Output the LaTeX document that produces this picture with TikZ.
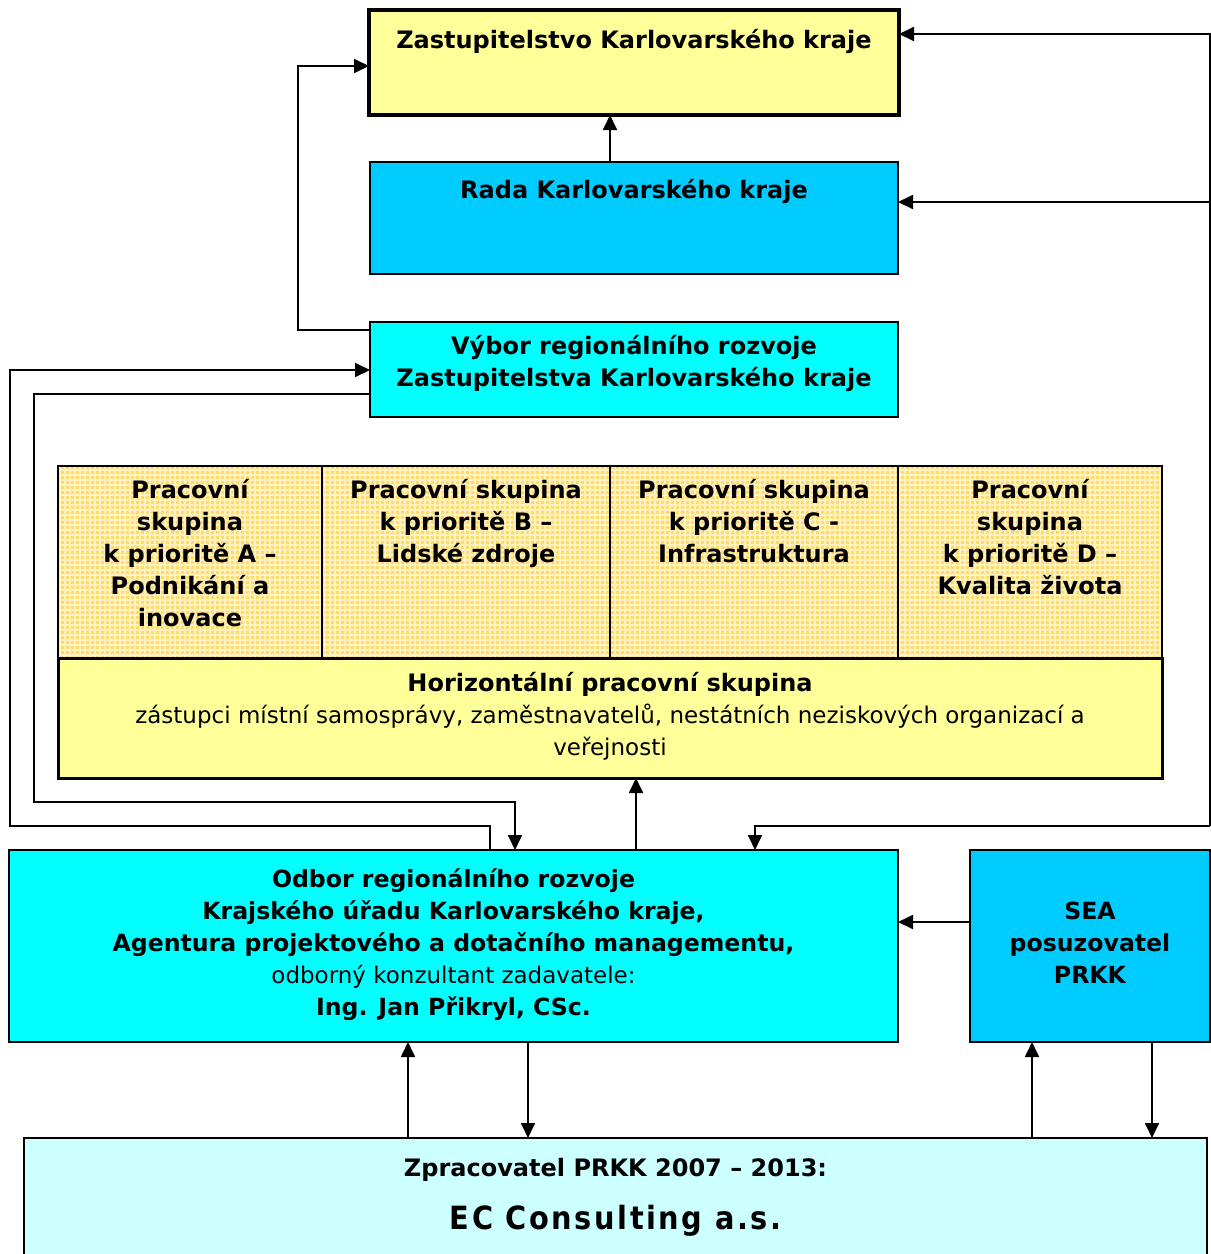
\documentclass[tikz,border=0pt]{standalone}
\usepackage{fontspec}
\setmainfont{DejaVu Sans}
\newfontfamily\ecfont[LetterSpace=8]{DejaVu Sans Condensed}
\usetikzlibrary{arrows.meta}
\definecolor{zyel}{RGB}{255,255,153}
\definecolor{rblue}{RGB}{0,204,255}
\definecolor{vcyan}{RGB}{0,255,255}
\definecolor{zlight}{RGB}{204,255,255}
\definecolor{pyel}{RGB}{255,220,100}
\tikzset{
  box/.style={draw, line width=1.6pt, inner sep=0pt, outer sep=0pt},
  txt/.style={anchor=north, align=center, inner sep=0pt, font=\fontsize{24}{32}\selectfont\bfseries, execute at begin node=\strut},
  otxt/.style={anchor=north, align=center, inner sep=0pt, font=\fontsize{23.6}{32}\selectfont\bfseries, execute at begin node=\strut},
  arr/.style={line width=1.8pt, -{Triangle[length=15pt,width=14pt]}},
}
\begin{document}
\begin{tikzpicture}[x=1pt,y=-1pt]
\useasboundingbox (0,0) rectangle (1211,1254);
% boxes
\node[box, line width=4pt, fill=zyel, minimum width=530pt, minimum height=105pt] (zast) at (634,62.5) {};
\node[box, fill=rblue, minimum width=528pt, minimum height=112pt] (rada) at (634,218) {};
\node[box, fill=vcyan, minimum width=528pt, minimum height=95pt] (vybor) at (634,369.5) {};
% priority pattern
\fill[pyel] (58,466) rectangle (1162,658);
\begin{scope}
\clip (58,466) rectangle (1162,658);
\draw[white, line width=1.5pt, opacity=0.6, step=5pt] (56,464) grid (1164,660);
\end{scope}
\node[box, minimum width=264pt, minimum height=192pt] (pA) at (190,562) {};
\node[box, minimum width=288pt, minimum height=192pt] (pB) at (466,562) {};
\node[box, minimum width=288pt, minimum height=192pt] (pC) at (754,562) {};
\node[box, minimum width=264pt, minimum height=192pt] (pD) at (1030,562) {};
\node[box, line width=3pt, fill=zyel, minimum width=1104pt, minimum height=120pt] (horiz) at (610,718) {};
\node[box, fill=vcyan, minimum width=889pt, minimum height=192pt] (odbor) at (453.5,946) {};
\node[box, fill=rblue, minimum width=240pt, minimum height=192pt] (sea) at (1090,946) {};
\node[box, fill=zlight, minimum width=1183pt, minimum height=132pt] (zprac) at (615.5,1204) {};
% texts
\node[txt] (tzast) at (634,25.4) {Zastupitelstvo Karlovarského kraje};
\node[txt] (trada) at (634,175.4) {Rada Karlovarského kraje};
\node[txt] (tvybor) at (634,335.4) {Výbor regionálního rozvoje\\Zastupitelstva Karlovarského kraje};
\node[txt] (tpA) at (190,479.4) {Pracovní\\skupina\\k prioritě A –\\Podnikání a\\inovace};
\node[txt] (tpB) at (466,479.4) {Pracovní skupina\\k prioritě B –\\Lidské zdroje};
\node[txt] (tpC) at (754,479.4) {Pracovní skupina\\k prioritě C -\\Infrastruktura};
\node[txt] (tpD) at (1030,479.4) {Pracovní\\skupina\\k prioritě D –\\Kvalita života};
\node[txt] (thoriz) at (610,672.4) {Horizontální pracovní skupina\\{\mdseries\fontsize{23}{32}\selectfont zástupci místní samosprávy, zaměstnavatelů, nestátních neziskových organizací a}\\{\mdseries\fontsize{23}{32}\selectfont veřejnosti}};
\node[otxt] (todbor) at (453.5,868.5) {Odbor regionálního rozvoje\\Krajského úřadu Karlovarského kraje,\\Agentura projektového a dotačního managementu,\\{\mdseries\fontsize{23}{32}\selectfont odborný konzultant zadavatele:}\\Ing. Jan Přikryl, CSc.};
\node[otxt] (tsea) at (1090,901.5) {SEA\\posuzovatel\\PRKK};
\node[txt] (tzprac) at (615.5,1153.4) {Zpracovatel PRKK 2007 – 2013:};
\node[anchor=base, inner sep=0pt, font=\ecfont\fontsize{32}{38}\selectfont\bfseries] (tec) at (615.5,1229) {EC Consulting a.s.};
% coordinates
\coordinate (c1) at (610,0);
\coordinate (L1) at (298,330);
\coordinate (L1t) at (298,66);
\coordinate (R1) at (1210,34);
\coordinate (R2) at (1210,202);
\coordinate (R3) at (1210,826);
\coordinate (R4) at (755,826);
\coordinate (A1) at (490,826);
\coordinate (A2) at (10,826);
\coordinate (A3) at (10,370);
\coordinate (B1) at (34,394);
\coordinate (B2) at (34,802);
\coordinate (B3) at (515,802);
\coordinate (M) at (636,0);
\coordinate (S) at (0,922);
\coordinate (D1) at (408,0);
\coordinate (D2) at (528,0);
\coordinate (D3) at (1032,0);
\coordinate (D4) at (1152,0);
% connectors
\draw[arr] (rada.north -| c1) -- (zast.south -| c1);
\draw[arr] (vybor.west |- L1) -- (L1) -- (L1t) -- (zast.west |- L1t);
\draw[arr] (R3) -- (R1) -- (zast.east |- R1);
\draw[arr] (R2) -- (rada.east |- R2);
\draw[arr] (R3) -- (R4) -- (odbor.north -| R4);
\draw[arr] (odbor.north -| A1) -- (A1) -- (A2) -- (A3) -- (vybor.west |- A3);
\draw[arr] (vybor.west |- B1) -- (B1) -- (B2) -- (B3) -- (odbor.north -| B3);
\draw[arr] (odbor.north -| M) -- (horiz.south -| M);
\draw[arr] (sea.west |- S) -- (odbor.east |- S);
\draw[arr] (zprac.north -| D1) -- (odbor.south -| D1);
\draw[arr] (odbor.south -| D2) -- (zprac.north -| D2);
\draw[arr] (zprac.north -| D3) -- (sea.south -| D3);
\draw[arr] (sea.south -| D4) -- (zprac.north -| D4);
\end{tikzpicture}
\end{document}
